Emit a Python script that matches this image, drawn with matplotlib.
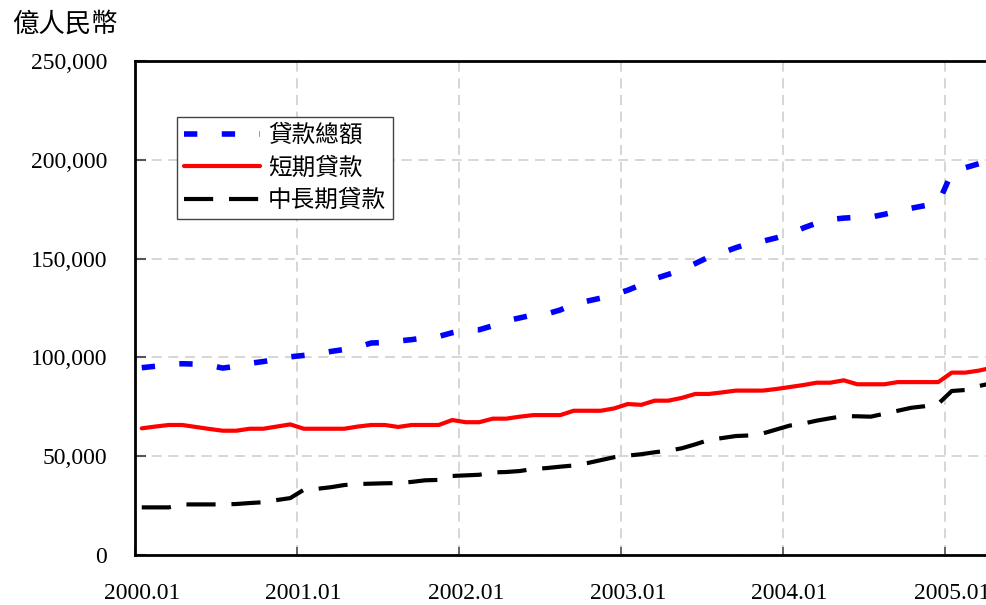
import matplotlib
matplotlib.use("Agg")
import matplotlib.pyplot as plt
import numpy as np
from matplotlib.ticker import FuncFormatter

# ---- data (monthly, 2000.01 - 2005.04), unit: 億人民幣 ----
year_labels = ["2000.01", "2001.01", "2002.01", "2003.01", "2004.01", "2005.01"]

total_loans = [94800, 95500, 96500, 96800, 96600, 96000, 94600, 95500, 97000, 97900, 99000, 100300,
               101000, 101800, 103000, 104000, 105200, 107300, 107500, 108300, 109000, 110000, 110600, 112500,
               113900, 114000, 116000, 118500, 120000, 121500, 122000, 124000, 127000, 128500, 130000, 131800,
               134000, 136800, 139800, 142000, 144300, 147500, 150800, 153000, 155500, 157700, 158800, 160500,
               162500, 165500, 168000, 169800, 170500, 170900, 171000, 172400, 174000, 175500, 176800, 178000,
               193500, 196000, 198000, 201000]

short_loans = [64100, 65000, 65800, 65800, 64800, 63800, 62900, 62900, 63900, 63900, 65000, 66100,
               63900, 63900, 63900, 63900, 65000, 65800, 65800, 64800, 65800, 65800, 65800, 68300,
               67200, 67200, 69000, 69000, 70000, 70800, 70800, 70800, 73000, 73000, 73000, 74200,
               76400, 76000, 78100, 78100, 79500, 81500, 81500, 82300, 83200, 83200, 83200, 84000,
               85000, 86000, 87200, 87200, 88400, 86400, 86400, 86400, 87500, 87500, 87500, 87500,
               92300, 92300, 93300, 94800]

long_loans = [24100, 24100, 24100, 25600, 25600, 25600, 25600, 25800, 26300, 26700, 27800, 28800,
              33000, 33500, 34300, 35400, 35900, 36100, 36300, 36400, 37000, 37800, 38000, 40000,
              40300, 40600, 41800, 42000, 42500, 43500, 44000, 44700, 45300, 46500, 48000, 49500,
              50300, 51000, 52000, 52800, 54000, 56000, 58200, 59200, 60200, 60500, 61500, 63500,
              65500, 66500, 68000, 69200, 70300, 70200, 70000, 71500, 73000, 74500, 75300, 76500,
              83000, 83500, 85500, 87000]

series_names = ["貸款總額", "短期貸款", "中長期貸款"]

plt.rcParams['font.family'] = ['Liberation Serif', 'Noto Sans CJK TC', 'DejaVu Sans']

fig = plt.figure(figsize=(9.86, 6.05), dpi=100)
ax = fig.add_axes([135/986, 50/605, 1 - 135/986, 494/605])

n = len(total_loans)
x = np.arange(n) + 0.5

ax.plot(x, total_loans, color="#0000ff", lw=4.0, dashes=(2.4, 4.4), solid_capstyle='butt',
        dash_capstyle='butt', label=series_names[0], zorder=3)
ax.plot(x, short_loans, color="#ff0000", lw=3.0, solid_capstyle='round', solid_joinstyle='round',
        label=series_names[1], zorder=3)
ax.plot(x, long_loans, color="#000000", lw=3.0, dashes=(7, 3.8), dash_capstyle='butt',
        label=series_names[2], zorder=3)

ax.set_xlim(0, 851/13.5)
ax.set_ylim(0, 250000)

# major x ticks at year boundaries (grid), labels centred on the first month of each year
ax.set_xticks([12 * k for k in range(len(year_labels))])
ax.set_xticklabels([])
ax.set_xticks([12 * k + 0.5 for k in range(len(year_labels))], minor=True)
ax.set_xticklabels(year_labels, minor=True)
ax.tick_params(axis='x', which='minor', length=0, pad=20, labelsize=17)
ax.tick_params(axis='x', which='major', direction='in', length=6, width=1.2, color='#555555')

ax.set_yticks(np.arange(0, 250001, 50000))
ax.yaxis.set_major_formatter(FuncFormatter(lambda v, p: f"{int(v):,}"))
ax.tick_params(axis='y', direction='in', length=8, width=1.5, color='#555555', pad=20, labelsize=17)

ax.grid(True, which='major', color='#d0d0d0', lw=1.2, dashes=(6, 4))
ax.set_axisbelow(True)

for s in ['left', 'bottom', 'top']:
    ax.spines[s].set_linewidth(2)
    ax.spines[s].set_color('black')
ax.spines['right'].set_visible(False)

fig.text(12/986, 1 - 24/605, "億人民幣", fontsize=19, va='center', ha='left',
         family=['Noto Sans CJK TC', 'DejaVu Sans'])

leg = ax.legend(loc='upper left', bbox_to_anchor=(42/851, (555-117)/494), borderaxespad=0,
                frameon=True, fancybox=False, edgecolor='#444444', framealpha=1, borderpad=0.3,
                handlelength=3.2, handletextpad=0.35, labelspacing=0.4,
                prop={'family': ['Noto Sans CJK TC', 'DejaVu Sans'], 'size': 17})
leg.get_frame().set_linewidth(1.0)

fig.savefig("out.png", dpi=100)
